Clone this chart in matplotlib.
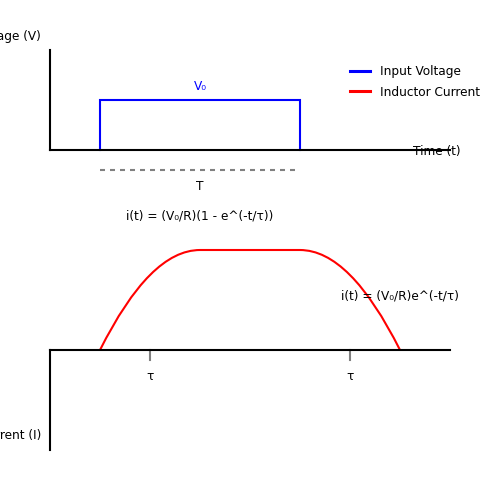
import matplotlib
matplotlib.use('Agg')
import matplotlib.pyplot as plt
from matplotlib.path import Path
from matplotlib.patches import PathPatch
from matplotlib.lines import Line2D

plt.rcParams['lines.scale_dashes'] = False

# Input voltage pulse (time in units of 100 px, V in units of V0)
pulse_t = [0.5, 0.5, 2.5, 2.5]
pulse_v = [0, 1, 1, 0]

# Inductor current: rise, plateau, decay (quadratic bezier control points)
curr_t = [0.5, 1.0, 1.5, 2.5, 3.0, 3.5]
curr_i = [0, 1, 1, 1, 1, 0]
curr_codes = [Path.MOVETO, Path.CURVE3, Path.CURVE3, Path.LINETO, Path.CURVE3, Path.CURVE3]

# Time constant markers
tau_t = [1.0, 3.0]
period_span = [0.5, 2.5]

fs = 8.7
fig = plt.figure(figsize=(5, 5), dpi=100)

# Top: voltage
ax1 = fig.add_axes([0.1, 0.7, 0.8, 0.2])
ax1.set_xlim(0, 4)
ax1.set_ylim(0, 2)
ax1.plot(pulse_t, pulse_v, color='#0000ff', lw=1.5, solid_joinstyle='miter', clip_on=False)
for s in ['top', 'right']:
    ax1.spines[s].set_visible(False)
for s in ['left', 'bottom']:
    ax1.spines[s].set_linewidth(1.5)
ax1.set_xticks([])
ax1.set_yticks([])
ax1.patch.set_visible(False)
ax1.text(1.5, 1.28, 'V₀', color='#0000ff', ha='center', va='center', fontsize=fs)
ax1.plot(period_span, [-0.4, -0.4], color='gray', lw=1.5, ls=(0, (3.6, 3.6)), clip_on=False)
ax1.text(1.5, -0.72, 'T', ha='center', va='center', fontsize=fs)
ax1.text(3.87, -0.02, 'Time (t)', ha='center', va='center', fontsize=fs)
ax1.text(-0.09, 2.28, 'Voltage (V)', ha='right', va='center', fontsize=fs)
ax1.text(1.5, -1.32, 'i(t) = (V₀/R)(1 - e^(-t/τ))', ha='center', va='center', fontsize=fs)

handles = [Line2D([], [], color='#0000ff', lw=2.2), Line2D([], [], color='#ff0000', lw=2.2)]
fig.legend(handles, ['Input Voltage', 'Inductor Current'], loc='center left',
           bbox_to_anchor=(0.7, 0.836), frameon=False, fontsize=fs, borderpad=0,
           borderaxespad=0, handlelength=1.67, handletextpad=0.83, labelspacing=0.6)

# Bottom: current
ax2 = fig.add_axes([0.1, 0.1, 0.8, 0.4])
ax2.set_xlim(0, 4)
ax2.set_ylim(-1, 1)
path = Path(list(zip(curr_t, curr_i)), curr_codes)
ax2.add_patch(PathPatch(path, facecolor='none', edgecolor='#ff0000', lw=1.5, clip_on=False))
for s in ['top', 'right']:
    ax2.spines[s].set_visible(False)
ax2.spines['bottom'].set_position(('data', 0))
ax2.spines['left'].set_bounds(-1, 0)
for s in ['left', 'bottom']:
    ax2.spines[s].set_linewidth(1.5)
ax2.set_xticks([])
ax2.set_yticks([])
ax2.patch.set_visible(False)
for t in tau_t:
    ax2.plot([t, t], [0, -0.1], color='gray', lw=1.5)
    ax2.text(t, -0.26, 'τ', ha='center', va='center', fontsize=fs)
ax2.text(3.5, 0.54, 'i(t) = (V₀/R)e^(-t/τ)', ha='center', va='center', fontsize=fs)
ax2.text(-0.09, -0.86, 'Current (I)', ha='right', va='center', fontsize=fs)

fig.savefig('out.png', dpi=100)
